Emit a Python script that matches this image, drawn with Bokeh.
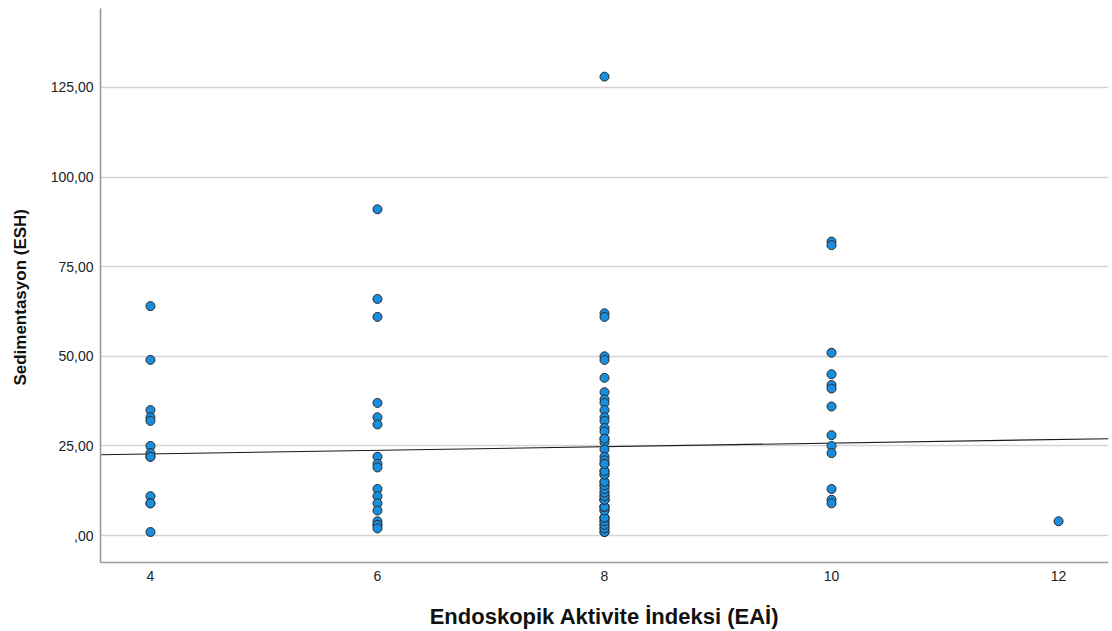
import numpy as np
from bokeh.plotting import figure
from bokeh.models import FixedTicker, CustomJSTickFormatter, Range1d, ColumnDataSource
from bokeh.embed import file_html
from bokeh.resources import INLINE

# Endoscopic activity index groups and the ESR values observed in each
eai_4 = [64, 49, 35, 33, 32, 25, 23, 22, 22, 11, 9, 9, 1]
eai_6 = [91, 66, 61, 37, 33, 31, 22, 20, 19, 13, 11, 9, 7, 4, 3, 3, 2]
eai_8 = [128, 62, 61, 50, 49, 44, 40, 38, 37, 35, 33, 32, 30, 29, 27, 26, 24,
         22, 21, 20, 18, 17, 15, 14, 12, 11, 10, 8, 7, 5, 4, 3, 2, 1,
         1, 2, 3, 4, 5, 5, 7, 8, 8, 10, 10, 11, 12, 13, 14, 15, 17, 18, 20, 27]
eai_10 = [82, 81, 51, 45, 42, 41, 36, 28, 25, 23, 13, 10, 9]
eai_12 = [4]

groups = {4: eai_4, 6: eai_6, 8: eai_8, 10: eai_10, 12: eai_12}

x_ticks = [4, 6, 8, 10, 12]
y_ticks = [0, 25, 50, 75, 100, 125]

xs = np.concatenate([[k] * len(v) for k, v in groups.items()]).astype(float)
ys = np.concatenate([v for v in groups.values()]).astype(float)

# least-squares fit line over all observations
slope, intercept = np.polyfit(xs, ys, 1)

x_lo, x_hi = 3.56, 12.44
y_lo, y_hi = -7.5, 147.0

p = figure(width=1112, height=631, output_backend="svg", toolbar_location=None,
           x_range=Range1d(x_lo, x_hi), y_range=Range1d(y_lo, y_hi),
           min_border_left=100, min_border_right=4, min_border_top=8,
           min_border_bottom=69)

p.outline_line_color = None
p.background_fill_color = "white"
p.border_fill_color = "white"

p.xgrid.grid_line_color = None
p.ygrid.grid_line_color = "#d4d4d4"
p.ygrid.grid_line_width = 1.6
p.ygrid.ticker = FixedTicker(ticks=y_ticks)

fit_x = np.array([x_lo, x_hi])
p.line(fit_x, intercept + slope * fit_x, line_color="#1a1a1a", line_width=1.1)

src = ColumnDataSource(data=dict(x=xs, y=ys))
p.scatter("x", "y", source=src, size=9, fill_color="#1a8ede",
          line_color="#2b2b2b", line_width=1)

font = "Liberation Sans"

p.xaxis.ticker = FixedTicker(ticks=x_ticks)
p.yaxis.ticker = FixedTicker(ticks=y_ticks)
p.yaxis.formatter = CustomJSTickFormatter(code="""
    if (tick == 0) { return ',00'; }
    return tick.toFixed(2).replace('.', ',');
""")

for ax in (p.xaxis, p.yaxis):
    ax.axis_line_color = "#9a9a9a"
    ax.axis_line_width = 1.6
    ax.major_tick_line_color = None
    ax.minor_tick_line_color = None
    ax.major_tick_out = 0
    ax.major_tick_in = 0
    ax.minor_tick_out = 0
    ax.major_label_text_font = font
    ax.major_label_text_font_size = "14px"
    ax.major_label_text_color = "#222222"
    ax.axis_label_text_font = font
    ax.axis_label_text_font_style = "bold"
    ax.axis_label_text_color = "#111111"

p.xaxis.axis_label_text_font_size = "22px"
p.yaxis.axis_label_text_font_size = "17px"
p.xaxis.major_label_standoff = 8
p.yaxis.major_label_standoff = 7
p.xaxis.axis_label = "Endoskopik Aktivite İndeksi (EAİ)"
# trailing no-break spaces nudge the centred vertical title a little lower
p.yaxis.axis_label = "Sedimentasyon (ESH)" + "\u00a0" * 5
p.xaxis.axis_label_standoff = 20
p.yaxis.axis_label_standoff = 18

open("out.html", "w").write(file_html(p, INLINE))
